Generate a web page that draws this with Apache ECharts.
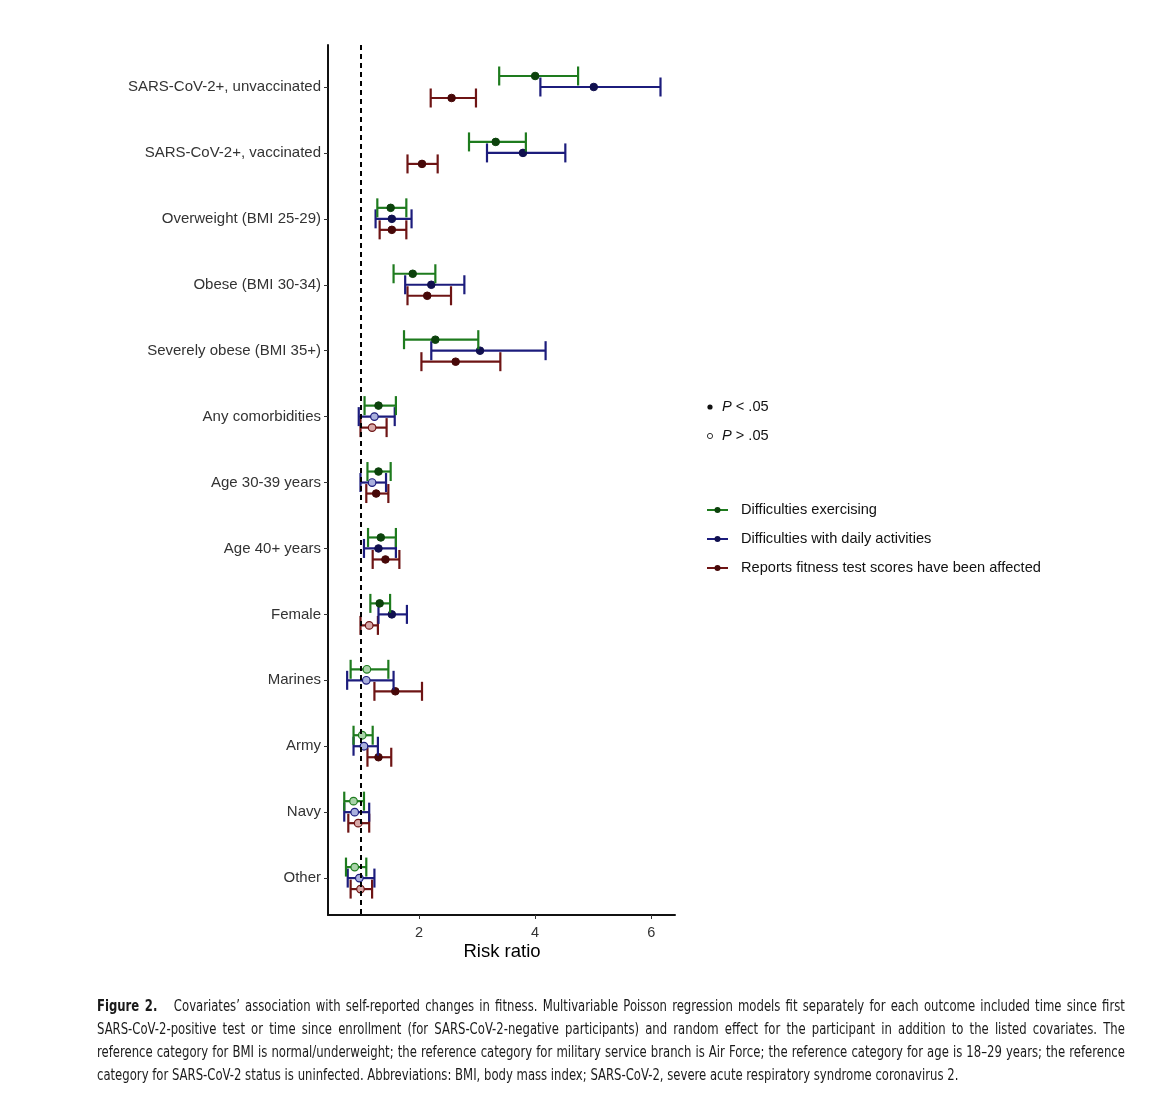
<!DOCTYPE html>
<html><head><meta charset="utf-8">
<script src="https://cdn.jsdelivr.net/npm/echarts@6/dist/echarts.min.js"></script>
<style>
html,body{margin:0;padding:0;background:#fff;}
#chart{position:absolute;left:0;top:0;width:1170px;height:1100px;}
#cap{position:absolute;left:97px;top:994px;width:1269px;transform:scaleX(0.81);transform-origin:0 0;font-family:"DejaVu Sans Condensed","Liberation Sans Narrow",sans-serif;font-size:16px;line-height:23px;color:#1a1a1a;}
#cap div{text-align:justify;text-align-last:justify;white-space:nowrap;}
#cap div.last{text-align-last:left;}
#cap b{font-weight:bold;margin-right:14px;}
</style></head>
<body>
<div id="chart"></div>
<div id="cap">
<div><b>Figure 2.</b> Covariates’ association with self-reported changes in fitness. Multivariable Poisson regression models fit separately for each outcome included time since first</div>
<div>SARS-CoV-2-positive test or time since enrollment (for SARS-CoV-2-negative participants) and random effect for the participant in addition to the listed covariates. The</div>
<div>reference category for BMI is normal/underweight; the reference category for military service branch is Air Force; the reference category for age is 18–29 years; the reference</div>
<div class="last">category for SARS-CoV-2 status is uninfected. Abbreviations: BMI, body mass index; SARS-CoV-2, severe acute respiratory syndrome coronavirus 2.</div>
</div>
<script>
const categories = ["SARS-CoV-2+, unvaccinated","SARS-CoV-2+, vaccinated","Overweight (BMI 25-29)","Obese (BMI 30-34)","Severely obese (BMI 35+)","Any comorbidities","Age 30-39 years","Age 40+ years","Female","Marines","Army","Navy","Other"];
const xTicks = [2,4,6];
const seriesNames = ["Difficulties exercising","Difficulties with daily activities","Reports fitness test scores have been affected"];
// estimates, lower and upper CI, significance (1 = P<.05)
const exEst = [4.00,3.32,1.51,1.89,2.28,1.30,1.30,1.34,1.32,1.10,1.02,0.87,0.89];
const exLow = [3.38,2.86,1.28,1.56,1.74,1.06,1.11,1.12,1.16,0.82,0.87,0.71,0.74];
const exHigh= [4.74,3.84,1.78,2.28,3.02,1.60,1.51,1.60,1.50,1.47,1.20,1.05,1.09];
const exSig = [1,1,1,1,1,1,1,1,1,0,0,0,0];
const daEst = [5.01,3.79,1.53,2.21,3.05,1.23,1.19,1.30,1.53,1.09,1.05,0.89,0.97];
const daLow = [4.09,3.17,1.25,1.76,2.21,0.96,0.99,1.05,1.30,0.76,0.87,0.71,0.77];
const daHigh= [6.16,4.52,1.87,2.78,4.18,1.58,1.43,1.60,1.79,1.56,1.29,1.14,1.23];
const daSig = [1,1,1,1,1,0,0,1,1,0,0,0,0];
const ftEst = [2.56,2.05,1.53,2.14,2.63,1.19,1.26,1.42,1.14,1.59,1.30,0.95,0.99];
const ftLow = [2.20,1.80,1.32,1.80,2.04,0.99,1.09,1.20,0.99,1.23,1.11,0.78,0.82];
const ftHigh= [2.98,2.32,1.78,2.55,3.40,1.44,1.47,1.66,1.29,2.05,1.52,1.14,1.19];
const ftSig = [1,1,1,1,1,0,1,1,0,1,1,0,0];

const lineColors = ["#1e7b1e","#1c1c7c","#6e1414"];
const dotColors = ["#0c420c","#10104f","#470808"];
const openFill = ["#a9d3a9","#aab0dd","#d7a9a9"];
const offsets = [-11,0,11];

function mk(est,low,high,sig){return categories.map((c,i)=>[i+1,low[i],est[i],high[i],sig[i]]);}
const allData=[mk(exEst,exLow,exHigh,exSig),mk(daEst,daLow,daHigh,daSig),mk(ftEst,ftLow,ftHigh,ftSig)];

function makeSeries(k){
  return {
    type:'custom', name:seriesNames[k], data:allData[k],
    encode:{x:[1,2,3],y:0},
    renderItem:function(params,api){
      const yv=api.value(0);
      const pL=api.coord([api.value(1),yv]);
      const pE=api.coord([api.value(2),yv]);
      const pH=api.coord([api.value(3),yv]);
      const y=pE[1]+offsets[k];
      const c=lineColors[k];
      const sig=api.value(4);
      const ls={stroke:c,lineWidth:2.2};
      return {type:'group',children:[
        {type:'line',shape:{x1:pL[0],y1:y,x2:pH[0],y2:y},style:ls},
        {type:'line',shape:{x1:pL[0],y1:y-9.5,x2:pL[0],y2:y+9.5},style:ls},
        {type:'line',shape:{x1:pH[0],y1:y-9.5,x2:pH[0],y2:y+9.5},style:ls},
        {type:'circle',shape:{cx:pE[0],cy:y,r:3.8},style:sig?{fill:dotColors[k],stroke:dotColors[k],lineWidth:1}:{fill:openFill[k],stroke:c,lineWidth:1.2}}
      ]};
    }
  };
}

const chart=echarts.init(document.getElementById('chart'));
const font='"Liberation Sans", Arial, sans-serif';
const series=[makeSeries(0),makeSeries(1),makeSeries(2)];
series.push({type:'line',data:[],markLine:{silent:true,symbol:'none',label:{show:false},lineStyle:{color:'#000',type:[5,4],width:2},data:[{xAxis:1}]}});
series.reverse();

const legendItems=[];
const ly=[510,539,568];
seriesNames.forEach((n,k)=>{
  legendItems.push({type:'line',shape:{x1:707,y1:ly[k],x2:728,y2:ly[k]},style:{stroke:lineColors[k],lineWidth:2}});
  legendItems.push({type:'circle',shape:{cx:717.5,cy:ly[k],r:3},style:{fill:dotColors[k]}});
  legendItems.push({type:'text',x:741,y:ly[k],style:{text:n,font:'14.6px '+font,fill:'#111',verticalAlign:'middle'}});
});
legendItems.push({type:'circle',shape:{cx:710,cy:407,r:2.6},style:{fill:'#111'}});
legendItems.push({type:'text',x:722,y:407,style:{text:'{i|P} < .05',verticalAlign:'middle',font:'14.6px '+font,fill:'#111',rich:{i:{fontStyle:'italic',fontSize:14.6,fontFamily:'Liberation Sans'}}}});
legendItems.push({type:'circle',shape:{cx:710,cy:436,r:2.6},style:{fill:'#fff',stroke:'#333',lineWidth:1}});
legendItems.push({type:'text',x:722,y:436,style:{text:'{i|P} > .05',verticalAlign:'middle',font:'14.6px '+font,fill:'#111',rich:{i:{fontStyle:'italic',fontSize:14.6,fontFamily:'Liberation Sans'}}}});
legendItems.push({type:'text',x:502,y:952,style:{text:'Risk ratio',font:'18.5px '+font,fill:'#000',align:'center',verticalAlign:'middle'}});

chart.setOption({
  animation:false,
  backgroundColor:'#fff',
  grid:{left:328,right:495,top:45,bottom:185},
  xAxis:{type:'value',min:0.43,max:6.41,
    axisLine:{show:true,lineStyle:{color:'#111',width:2}},
    axisTick:{show:true,length:4,lineStyle:{color:'#333',width:1},customValues:xTicks},
    axisLabel:{customValues:xTicks,fontSize:14.5,color:'#333',fontFamily:'Liberation Sans',margin:10},
    splitLine:{show:false}},
  yAxis:{type:'value',min:0.363,max:13.56,inverse:true,
    axisLine:{show:true,lineStyle:{color:'#111',width:2}},
    axisTick:{show:true,length:4,lineStyle:{color:'#333',width:1},customValues:categories.map((c,i)=>i+1)},
    axisLabel:{customValues:categories.map((c,i)=>i+1),formatter:v=>categories[Math.round(v)-1]||'',fontSize:15,color:'#333',fontFamily:'Liberation Sans',margin:7},
    splitLine:{show:false}},
  graphic:legendItems,
  series:series
});
</script>
</body></html>
